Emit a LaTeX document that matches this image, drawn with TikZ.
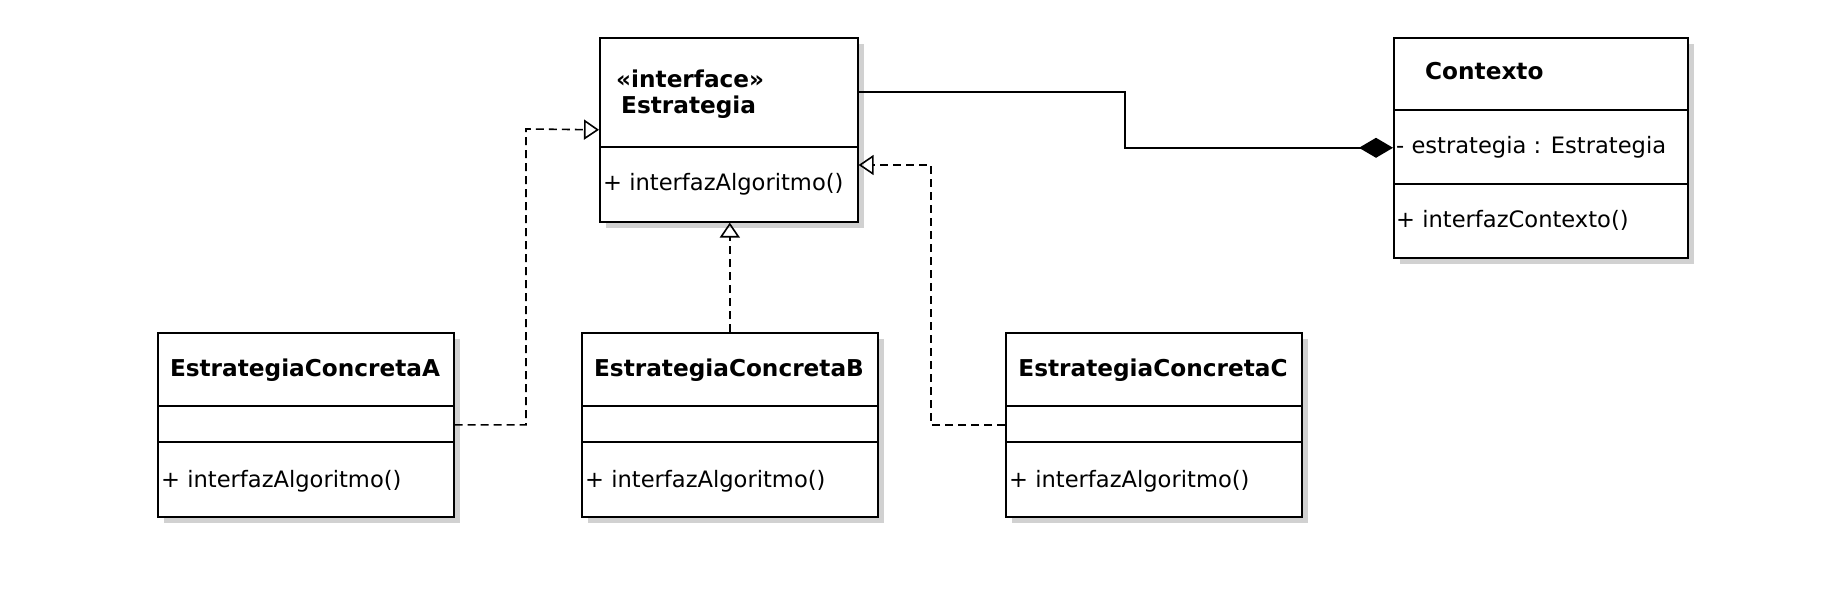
\documentclass[tikz,border=0pt]{standalone}
\usepackage{fontspec}
\setmainfont{DejaVu Sans}
\usetikzlibrary{arrows.meta,shadows}
\begin{document}
\begin{tikzpicture}[x=1pt,y=-1pt,
  classbox/.style={draw=black, line width=1.6pt, fill=white, inner sep=0pt, anchor=north west,
    drop shadow={shadow xshift=6pt, shadow yshift=-6pt, fill=black!18, opacity=1}},
  divider/.style={draw=black, line width=1.6pt},
  txt/.style={inner sep=0pt, font=\fontsize{22.6}{26}\selectfont},
  btxt/.style={txt, font=\fontsize{23.2}{27}\selectfont\bfseries},
  realize/.style={draw=black, line width=1.6pt, dash pattern=on 8pt off 5pt,
    -{Triangle[open, length=15pt, width=20pt, line width=1.6pt]}},
  compose/.style={draw=black, line width=1.6pt,
    -{Diamond[length=34pt, width=20pt]}}]
\useasboundingbox (0,0) rectangle (1834,596);

% Estrategia (interface)
\node[classbox, minimum width=258pt, minimum height=184pt] (estr) at (599,37) {};
\draw[divider] (599,147) -- (857,147);
\node[btxt, anchor=base west] (estrst) at (616,88) {«interface»};
\node[btxt, anchor=base west] (estrnm) at (621,114) {Estrategia};
\node[txt, anchor=base west] (estrop) at (603,191) {+ interfazAlgoritmo()};

% Contexto
\node[classbox, minimum width=294pt, minimum height=220pt] (ctx) at (1393,37) {};
\draw[divider] (1393,110) -- (1687,110);
\draw[divider] (1393,184) -- (1687,184);
\node[btxt, anchor=base west] (ctxnm) at (1425,80) {Contexto};
\node[txt, anchor=base west] (ctxat) at (1396,154) {- estrategia : Estrategia};
\node[txt, anchor=base west] (ctxop) at (1396,228) {+ interfazContexto()};

% EstrategiaConcretaA
\node[classbox, minimum width=296pt, minimum height=184pt] (A) at (157,332) {};
\draw[divider] (157,406) -- (453,406);
\draw[divider] (157,442) -- (453,442);
\node[btxt, anchor=base] (Anm) at (305,376) {EstrategiaConcretaA};
\node[txt, anchor=base west] (Aop) at (161,487) {+ interfazAlgoritmo()};

% EstrategiaConcretaB
\node[classbox, minimum width=296pt, minimum height=184pt] (B) at (581,332) {};
\draw[divider] (581,406) -- (877,406);
\draw[divider] (581,442) -- (877,442);
\node[btxt, anchor=base] (Bnm) at (729,376) {EstrategiaConcretaB};
\node[txt, anchor=base west] (Bop) at (585,487) {+ interfazAlgoritmo()};

% EstrategiaConcretaC
\node[classbox, minimum width=296pt, minimum height=184pt] (C) at (1005,332) {};
\draw[divider] (1005,406) -- (1301,406);
\draw[divider] (1005,442) -- (1301,442);
\node[btxt, anchor=base] (Cnm) at (1153,376) {EstrategiaConcretaC};
\node[txt, anchor=base west] (Cop) at (1009,487) {+ interfazAlgoritmo()};

% connectors
\coordinate (ka) at (526,129);
\coordinate (kc) at (931,165);
\coordinate (kt) at (1125,92);
\draw[realize] (A.east) -| (ka) -- (estr.west);
\draw[realize] (B.north) -- (B.north |- estr.south);
\draw[realize] (C.west) -| (kc) -- (kc -| estr.east);
\draw[compose] (kt -| estr.east) -- (kt) |- (ctx.west);
\end{tikzpicture}
\end{document}
